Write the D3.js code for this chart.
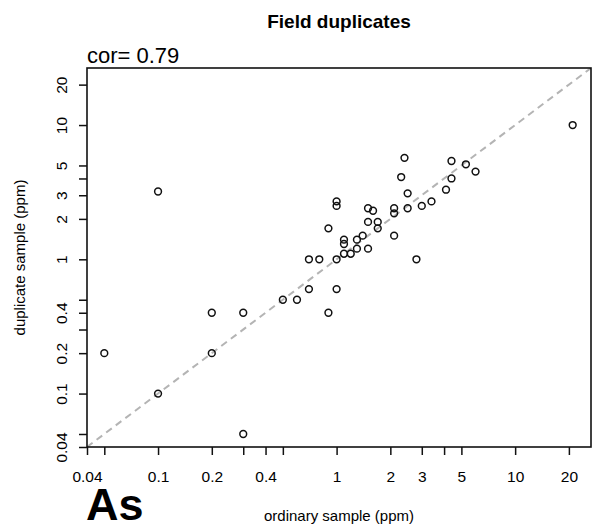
<!DOCTYPE html>
<html>
<head>
<meta charset="utf-8">
<script src="https://cdn.jsdelivr.net/npm/d3@7"></script>
<style>
  html, body { margin: 0; padding: 0; background: #fff; }
  svg { display: block; }
  text { font-family: "Liberation Sans", Arial, Helvetica, sans-serif; fill: #000; }
</style>
</head>
<body>
<svg id="chart" width="594" height="531"></svg>
<script>
// ---- data (ordinary sample ppm, duplicate sample ppm) ----
const ordinary  = [0.05, 0.1, 0.1, 0.2, 0.2, 0.3, 0.3, 0.5, 0.6, 0.7, 0.7, 0.8, 0.9, 0.9, 1.0, 1.0, 1.0, 1.0,
                   1.1, 1.1, 1.1, 1.2, 1.3, 1.3, 1.4, 1.5, 1.5, 1.5, 1.6, 1.7, 1.7, 2.1, 2.1, 2.1,
                   2.3, 2.4, 2.5, 2.5, 2.8, 3.0, 3.4, 4.1, 4.4, 4.4, 5.3, 6.0, 21];
const duplicate = [0.2, 0.1, 3.2, 0.2, 0.4, 0.4, 0.05, 0.5, 0.5, 0.6, 1.0, 1.0, 0.4, 1.7, 0.6, 1.0, 2.5, 2.7,
                   1.1, 1.3, 1.4, 1.1, 1.2, 1.4, 1.5, 1.2, 1.9, 2.4, 2.3, 1.7, 1.9, 1.5, 2.2, 2.4,
                   4.1, 5.7, 2.4, 3.1, 1.0, 2.5, 2.7, 3.3, 4.0, 5.4, 5.1, 4.5, 10];
const tickValues  = [0.04, 0.05, 0.1, 0.2, 0.3, 0.4, 0.5, 1, 2, 3, 4, 5, 10, 20];
const tickLabels  = ["0.04", "", "0.1", "0.2", "", "0.4", "", "1", "2", "3", "", "5", "10", "20"];
const axisDomain  = [0.04, 26.6];
const titleText   = "Field duplicates";
const corText     = "cor= 0.79";
const elementText = "As";
const xLabel      = "ordinary sample (ppm)";
const yLabel      = "duplicate sample (ppm)";

// ---- layout ----
const plot = { left: 87, right: 591, top: 68, bottom: 447 };
const svg = d3.select("#chart");

const x = d3.scaleLog().domain(axisDomain).range([plot.left, plot.right]);
const y = d3.scaleLog().domain(axisDomain).range([plot.bottom, plot.top]);

const labelOf = d => tickLabels[tickValues.indexOf(d)];

// clip for 1:1 line
svg.append("clipPath").attr("id", "clip")
  .append("rect")
  .attr("x", plot.left).attr("y", plot.top)
  .attr("width", plot.right - plot.left).attr("height", plot.bottom - plot.top);

// 1:1 dashed line
svg.append("line")
  .attr("clip-path", "url(#clip)")
  .attr("x1", x(axisDomain[0])).attr("y1", y(axisDomain[0]))
  .attr("x2", x(axisDomain[1])).attr("y2", y(axisDomain[1]))
  .attr("stroke", "#b4b4b4").attr("stroke-width", 2)
  .attr("stroke-dasharray", "7,5");

// points
svg.append("g").selectAll("circle")
  .data(ordinary.map((v, i) => [v, duplicate[i]]))
  .join("circle")
  .attr("cx", d => x(d[0]))
  .attr("cy", d => y(d[1]))
  .attr("r", 3.4)
  .attr("fill", "none")
  .attr("stroke", "#111")
  .attr("stroke-width", 1.5);

// box
svg.append("rect")
  .attr("x", plot.left).attr("y", plot.top)
  .attr("width", plot.right - plot.left).attr("height", plot.bottom - plot.top)
  .attr("fill", "none").attr("stroke", "#111").attr("stroke-width", 1.6);

// x axis
const gx = svg.append("g")
  .attr("transform", `translate(0,${plot.bottom})`)
  .call(d3.axisBottom(x).tickValues(tickValues).tickFormat(labelOf).tickSize(8).tickSizeOuter(0));
gx.select(".domain").remove();
gx.selectAll(".tick line").attr("stroke", "#111").attr("stroke-width", 1.5);
gx.selectAll(".tick text")
  .attr("y", 35).attr("dy", 0)
  .style("font-size", "15.5px")
  .style("font-family", "'Liberation Sans', Arial, sans-serif")
  .attr("fill", "#000");

// y axis
const gy = svg.append("g")
  .attr("transform", `translate(${plot.left},0)`)
  .call(d3.axisLeft(y).tickValues(tickValues).tickFormat(labelOf).tickSize(8).tickSizeOuter(0));
gy.select(".domain").remove();
gy.selectAll(".tick line").attr("stroke", "#111").attr("stroke-width", 1.5);
gy.selectAll(".tick text")
  .attr("transform", "rotate(-90)")
  .attr("x", 0).attr("y", -20).attr("dy", 0)
  .attr("text-anchor", "middle")
  .style("font-size", "15.5px")
  .style("font-family", "'Liberation Sans', Arial, sans-serif")
  .attr("fill", "#000");

// title
svg.append("text")
  .attr("x", (plot.left + plot.right) / 2).attr("y", 28)
  .attr("text-anchor", "middle")
  .style("font-size", "19px").style("font-weight", "bold")
  .text(titleText);

// cor text
svg.append("text")
  .attr("x", plot.left).attr("y", 63)
  .style("font-size", "22px")
  .text(corText);

// x label
svg.append("text")
  .attr("x", (plot.left + plot.right) / 2).attr("y", 521)
  .attr("text-anchor", "middle")
  .style("font-size", "15px")
  .text(xLabel);

// y label
svg.append("text")
  .attr("transform", `translate(25,${(plot.top + plot.bottom) / 2}) rotate(-90)`)
  .attr("text-anchor", "middle")
  .style("font-size", "15px")
  .text(yLabel);

// element label
svg.append("text")
  .attr("x", plot.left - 1).attr("y", 520)
  .style("font-size", "45px").style("font-weight", "bold")
  .text(elementText);
</script>
</body>
</html>
